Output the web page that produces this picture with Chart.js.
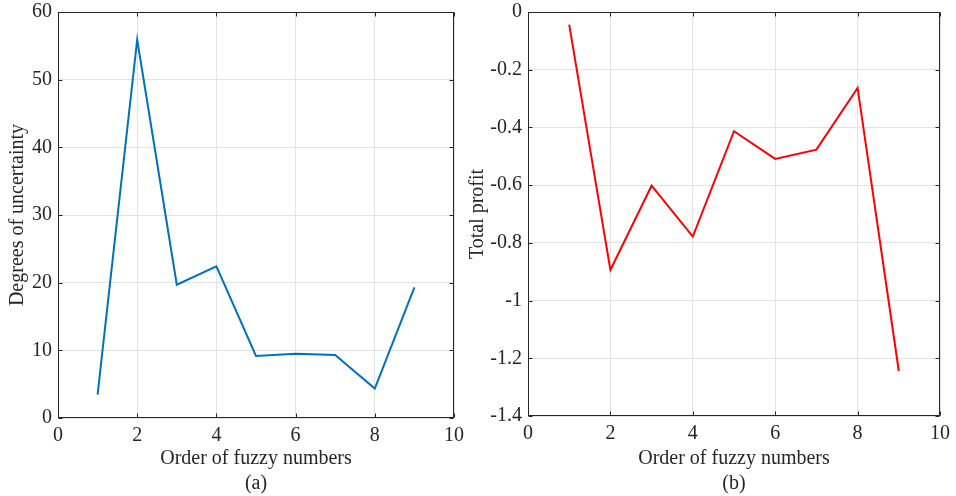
<!DOCTYPE html>
<html>
<head>
<meta charset="utf-8">
<script src="https://cdn.jsdelivr.net/npm/chart.js@4.4.0/dist/chart.umd.min.js"></script>
<style>
  body { margin: 0; background: #fff; width: 956px; height: 496px; overflow: hidden; position: relative; }
  .box { position: absolute; top: -6px; height: 502px; }
</style>
</head>
<body>
<div class="box" style="left:0;width:478px"><canvas id="chartA"></canvas></div>
<div class="box" style="left:462px;width:494px"><canvas id="chartB"></canvas></div>
<script>
// data
const order = [1, 2, 3, 4, 5, 6, 7, 8, 9];
const uncertainty = [3.45, 55.9, 19.7, 22.4, 9.16, 9.5, 9.3, 4.35, 19.3];
const profit = [-0.044, -0.894, -0.602, -0.778, -0.413, -0.509, -0.477, -0.263, -1.244];

const xTitle = "Order of fuzzy numbers";
const axisColor = "#262626";
const gridColor = "#e3e3e3";
const fontFamily = "'Liberation Serif', 'Times New Roman', serif";

// box round the plot + inward ticks on all four sides (matlab style)
const frame = {
  id: "frame",
  afterDraw(chart) {
    const { ctx, chartArea: a, scales } = chart;
    const L = Math.round(a.left) + 0.5, R = Math.round(a.right) - 0.5;
    const T = Math.round(a.top) + 0.5, B = Math.round(a.bottom) - 0.5;
    ctx.save();
    ctx.strokeStyle = axisColor;
    ctx.lineWidth = 1;
    ctx.beginPath();
    scales.x.ticks.forEach((t) => {
      const px = Math.round(scales.x.getPixelForValue(t.value)) + 0.5;
      ctx.moveTo(px, B); ctx.lineTo(px, B - 4);
      ctx.moveTo(px, T); ctx.lineTo(px, T + 4);
    });
    scales.y.ticks.forEach((t) => {
      const py = Math.round(scales.y.getPixelForValue(t.value)) + 0.5;
      ctx.moveTo(L, py); ctx.lineTo(L + 4, py);
      ctx.moveTo(R, py); ctx.lineTo(R - 4, py);
    });
    ctx.stroke();
    ctx.strokeRect(L, T, R - L, B - T);
    ctx.restore();
  },
};

function makeChart(id, values, color, yCfg, pad, yWidth, xHeight, yTitle, yTitlePad, caption) {
  return new Chart(document.getElementById(id), {
    type: "line",
    data: {
      datasets: [{
        data: order.map((x, i) => ({ x: x, y: values[i] })),
        borderColor: color,
        borderWidth: 2,
        pointRadius: 0,
        tension: 0,
        fill: false,
      }],
    },
    options: {
      responsive: true,
      maintainAspectRatio: false,
      animation: false,
      layout: { padding: pad },
      plugins: { legend: { display: false }, tooltip: { enabled: false } },
      scales: {
        x: {
          type: "linear",
          min: 0, max: 10,
          ticks: { stepSize: 2, color: axisColor, padding: 6, font: { family: fontFamily, size: 20 } },
          grid: { color: gridColor, drawTicks: false },
          border: { display: false },
          title: {
            display: true,
            text: [xTitle, caption],
            color: axisColor,
            padding: { top: 0, bottom: 0 },
            font: { family: fontFamily, size: 20, lineHeight: 1.25 },
          },
          afterFit: (s) => { s.height = xHeight; },
        },
        y: {
          type: "linear",
          min: yCfg.min, max: yCfg.max,
          ticks: {
            stepSize: yCfg.step, color: axisColor, padding: 6,
            font: { family: fontFamily, size: 20 },
            callback: (v) => String(+v.toFixed(1)),
          },
          grid: { color: gridColor, drawTicks: false },
          border: { display: false },
          title: {
            display: true,
            text: yTitle,
            color: axisColor,
            padding: { top: yTitlePad, bottom: 0 },
            font: { family: fontFamily, size: 20 },
          },
          afterFit: (s) => { s.width = yWidth; },
        },
      },
    },
    plugins: [frame],
  });
}

makeChart("chartA", uncertainty, "#0072BD", { min: 0, max: 60, step: 10 },
  { top: 0, right: 24, left: 0, bottom: 0 }, 58, 78, "Degrees of uncertainty", 6, "(a)");

makeChart("chartB", profit, "#FF0000", { min: -1.4, max: 0, step: 0.2 },
  { top: 0, right: 11, left: 0, bottom: 0 }, 66, 80, "Total profit", 4, "(b)");
</script>
</body>
</html>
